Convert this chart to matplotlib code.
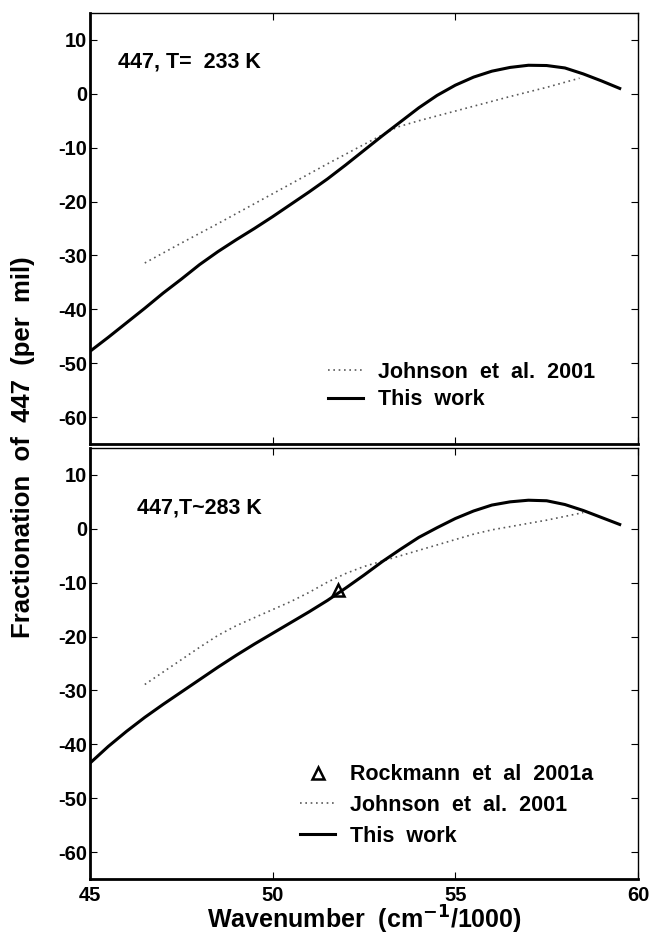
import matplotlib
matplotlib.use("Agg")
import matplotlib.pyplot as plt
import matplotlib.ticker as ticker

plt.rcParams["font.family"] = ["Liberation Sans", "DejaVu Sans"]
plt.rcParams["font.weight"] = "bold"
plt.rcParams["axes.unicode_minus"] = False

# Data (wavenumber in cm-1/1000, fractionation in per mil)
# top panel: T = 233 K
wn_top = [45, 45.5, 46, 46.5, 47, 47.5, 48, 48.5, 49, 49.5, 50, 50.5, 51, 51.5,
          52, 52.5, 53, 53.5, 54, 54.5, 55, 55.5, 56, 56.5, 57, 57.5, 58, 58.5, 59, 59.5]
work_top = [-47.8, -45.2, -42.5, -39.8, -37.0, -34.4, -31.7, -29.3, -27.1, -25.0,
            -22.8, -20.5, -18.2, -15.8, -13.2, -10.5, -7.8, -5.2, -2.6, -0.3,
            1.6, 3.1, 4.2, 4.9, 5.3, 5.25, 4.8, 3.7, 2.4, 1.0]
wn_john_top = [46.5, 47.5, 48.5, 49.5, 50.5, 51.5, 52.5, 53.4, 54.0, 54.5, 55.5,
               56.5, 57.5, 58.4]
john_top = [-31.4, -27.7, -24.1, -20.4, -16.7, -13.0, -9.4, -6.2, -5.0, -4.1,
            -2.3, -0.5, 1.2, 2.9]

# bottom panel: T ~ 283 K
wn_bot = [45, 45.5, 46, 46.5, 47, 47.5, 48, 48.5, 49, 49.5, 50, 50.5, 51, 51.5,
          52, 52.5, 53, 53.5, 54, 54.5, 55, 55.5, 56, 56.5, 57, 57.5, 58, 58.5, 59, 59.5]
work_bot = [-43.5, -40.4, -37.6, -35.0, -32.6, -30.3, -28.0, -25.7, -23.5, -21.4,
            -19.4, -17.4, -15.4, -13.3, -11.0, -8.6, -6.1, -3.8, -1.6, 0.2,
            1.9, 3.3, 4.4, 5.0, 5.3, 5.2, 4.5, 3.4, 2.1, 0.8]
wn_john_bot = [46.5, 47, 47.5, 48, 48.5, 49, 49.5, 50, 50.5, 51, 51.5, 52, 52.5,
               53, 53.5, 54, 54.5, 55, 55.5, 56, 56.5, 57, 57.5, 58, 58.5]
john_bot = [-28.9, -26.6, -24.3, -22.0, -19.8, -18.0, -16.5, -15.0, -13.5, -11.8,
            -9.9, -8.3, -7.0, -6.0, -5.0, -4.0, -3.0, -2.0, -1.0, -0.2, 0.4, 1.0,
            1.6, 2.3, 3.0]
rock_wn = [51.8]
rock_val = [-11.4]

fig = plt.figure(figsize=(6.52, 9.35), dpi=100)
ax1 = fig.add_axes([0.138, 0.5251, 0.8405, 0.461])
ax2 = fig.add_axes([0.138, 0.0599, 0.8405, 0.461])

for ax in (ax1, ax2):
    ax.set_xlim(45, 60)
    ax.set_ylim(-65, 15)
    ax.xaxis.set_major_locator(ticker.MultipleLocator(5))
    ax.set_yticks(range(-60, 11, 10))
    ax.tick_params(direction="in", top=True, right=True, length=5, width=0.8,
                   labelsize=14.5)
    ax.tick_params(axis="y", pad=2)
    ax.tick_params(axis="x", pad=5)
    ax.spines["left"].set_linewidth(2)
    ax.spines["bottom"].set_linewidth(2)
    ax.spines["top"].set_linewidth(1)
    ax.spines["right"].set_linewidth(1)

ax1.tick_params(labelbottom=False)

dots = (0, (1, 2.2))
leg_kw = dict(loc="lower left", frameon=False, fontsize=15.5, handlelength=1.6,
              handletextpad=0.7, borderpad=0, borderaxespad=0)

ax1.plot(wn_john_top, john_top, color="0.35", lw=1.2, linestyle=dots,
         label="Johnson  et  al.  2001")
ax1.plot(wn_top, work_top, color="black", lw=2.2, label="This  work")
ax1.text(45.78, 5.9, "447, T=  233 K", fontsize=15.5, fontweight="bold", va="center")
ax1.legend(bbox_to_anchor=(0.435, 0.078), labelspacing=0.3, **leg_kw)

ax2.plot(rock_wn, rock_val, linestyle="none", marker="^", ms=8, mfc="white",
         mec="black", mew=1.8, label="Rockmann  et  al  2001a")
ax2.plot(wn_john_bot, john_bot, color="0.35", lw=1.2, linestyle=dots,
         label="Johnson  et  al.  2001")
ax2.plot(wn_bot, work_bot, color="black", lw=2.2, label="This  work")
ax2.text(46.3, 3.9, "447,T~283 K", fontsize=15.5, fontweight="bold", va="center")
ax2.legend(bbox_to_anchor=(0.384, 0.075), labelspacing=0.45, **leg_kw)

ax2.set_xlabel("Wavenumber  (cm$^{\\mathbf{-1}}$/1000)", fontsize=18,
               fontweight="bold", labelpad=-1)
fig.text(0.036, 0.522, "Fractionation  of  447  (per  mil)", rotation=90,
         fontsize=18.5, fontweight="bold", ha="center", va="center")

plt.savefig("out.png", dpi=100)
